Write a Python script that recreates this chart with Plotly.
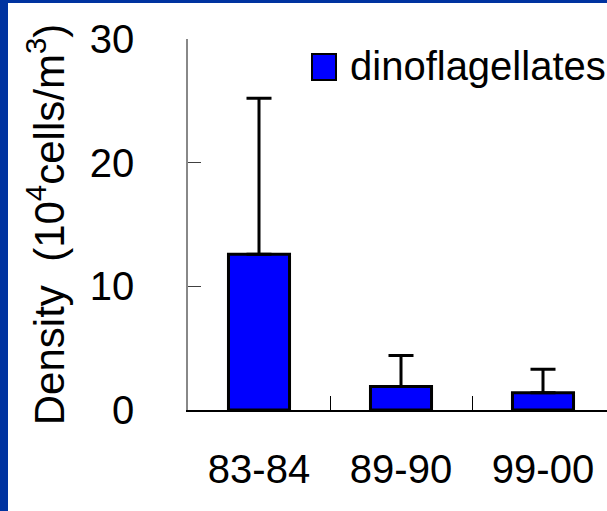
import plotly.graph_objects as go

# ---- data ----
periods = ["83-84", "89-90", "99-00"]
density = [12.6, 1.9, 1.4]
density_err = [12.6, 2.5, 1.9]
y_ticks = [0, 10, 20, 30]
series_name = "dinoflagellates"

# ---- layout constants (pixels) ----
W, H = 607, 511
L, R, T, B = 188, 0, 39, 101
pw, ph = W - L - R, H - T - B
unit = 142.0
BLUE_BORDER = "#0033a0"
FONT = "Arial, Liberation Sans, sans-serif"


def px_x(px):
    return (px - L) / pw


def px_y(py):
    return (H - B - py) / ph


fig = go.Figure()
fig.add_trace(go.Bar(
    x=periods,
    y=density,
    name=series_name,
    width=0.43,
    marker=dict(color="#0000ff", line=dict(color="black", width=3)),
    error_y=dict(type="data", symmetric=False, array=density_err,
                 arrayminus=[0] * len(density_err),
                 color="black", thickness=3, width=12.5),
    showlegend=False,
))

# legend drawn as a swatch + label
fig.add_shape(type="rect", xref="paper", yref="paper",
              x0=px_x(312), x1=px_x(336), y0=px_y(80), y1=px_y(54),
              fillcolor="#0000ff", line=dict(color="black", width=2))
fig.add_annotation(xref="paper", yref="paper", x=px_x(348), y=px_y(66),
                   xanchor="left", yanchor="middle", showarrow=False,
                   text=series_name, font=dict(family=FONT, size=40, color="black"))

# blue frame strips (left and top)
fig.add_shape(type="rect", xref="paper", yref="paper", layer="above",
              x0=px_x(0), x1=px_x(8), y0=px_y(H), y1=px_y(0),
              fillcolor=BLUE_BORDER, line=dict(width=0))
fig.add_shape(type="rect", xref="paper", yref="paper", layer="above",
              x0=px_x(0), x1=1.0, y0=px_y(3), y1=px_y(0),
              fillcolor=BLUE_BORDER, line=dict(width=0))

fig.update_layout(
    width=W, height=H,
    margin=dict(l=L, r=R, t=T, b=B, pad=0),
    paper_bgcolor="white", plot_bgcolor="white",
    font=dict(family=FONT, size=40, color="black"),
    xaxis=dict(
        type="category",
        range=[-0.5, -0.5 + pw / unit],
        showline=True, linecolor="black", linewidth=1.5,
        ticks="inside", ticklen=14, tickcolor="black", tickwidth=1,
        tickson="boundaries",
        showgrid=False, zeroline=False,
        tickfont=dict(family=FONT, size=40, color="black"),
        ticklabelstandoff=23,
    ),
    yaxis=dict(
        range=[0, 30],
        tickvals=y_ticks,
        showline=True, linecolor="#888888", linewidth=1.5,
        ticks="inside", ticklen=13, tickcolor="#404040", tickwidth=1,
        showgrid=False, zeroline=False,
        tickfont=dict(family=FONT, size=40, color="black"),
        ticklabelstandoff=44,
        title=dict(text="Density  (10<sup>4</sup>cells/m<sup>3</sup>)",
                   font=dict(family=FONT, size=42, color="black"),
                   standoff=12),
    ),
)

fig.write_html("out.html")
